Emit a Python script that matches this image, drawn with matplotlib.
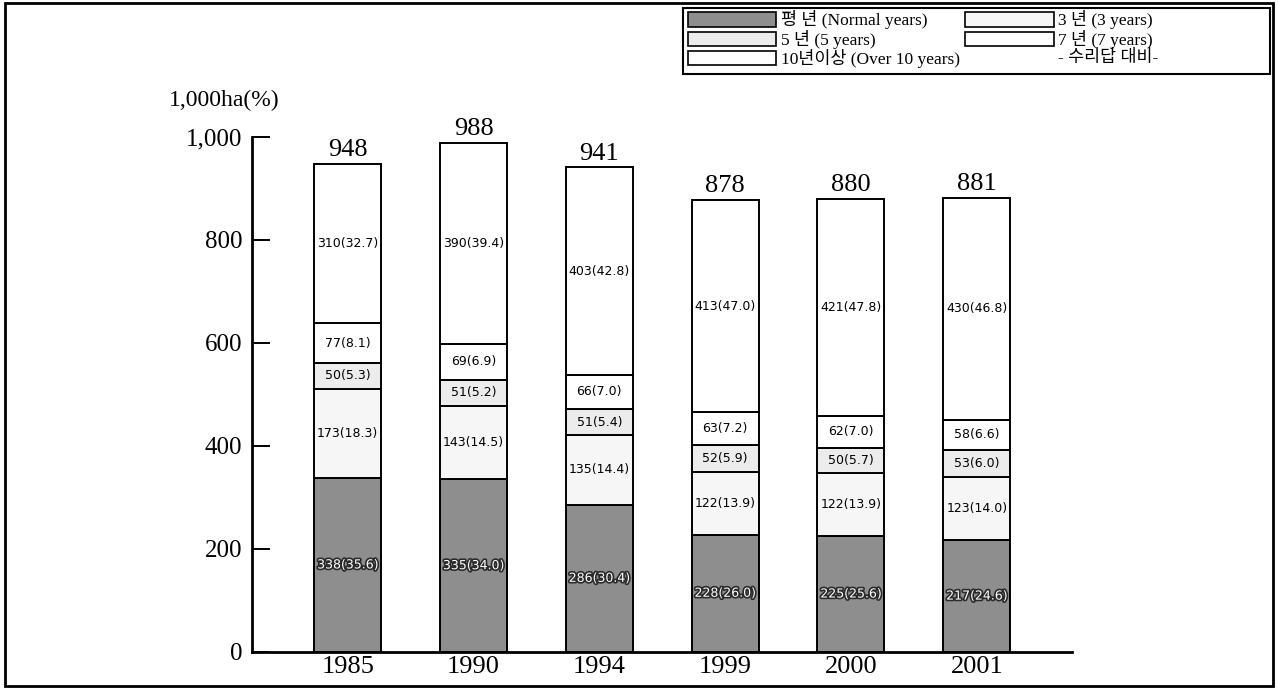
import matplotlib
matplotlib.use('Agg')
import matplotlib.pyplot as plt
import matplotlib.patheffects as pe
from matplotlib.patches import Patch, Rectangle
import numpy as np

# ------------------------------
# data (1,000 ha, share in %)
# ------------------------------
years = ['1985', '1990', '1994', '1999', '2000', '2001']
totals = [948, 988, 941, 878, 880, 881]

normal = [338, 335, 286, 228, 225, 217]
normal_pct = [35.6, 34.0, 30.4, 26.0, 25.6, 24.6]
yr3 = [173, 143, 135, 122, 122, 123]
yr3_pct = [18.3, 14.5, 14.4, 13.9, 13.9, 14.0]
yr5 = [50, 51, 51, 52, 50, 53]
yr5_pct = [5.3, 5.2, 5.4, 5.9, 5.7, 6.0]
yr7 = [77, 69, 66, 63, 62, 58]
yr7_pct = [8.1, 6.9, 7.0, 7.2, 7.0, 6.6]
yr10 = [310, 390, 403, 413, 421, 430]
yr10_pct = [32.7, 39.4, 42.8, 47.0, 47.8, 46.8]

series = [
    ('평 년 (Normal years)', normal, normal_pct, '#8e8e8e'),
    ('3 년 (3 years)', yr3, yr3_pct, '#f6f6f6'),
    ('5 년 (5 years)', yr5, yr5_pct, '#ececec'),
    ('7 년 (7 years)', yr7, yr7_pct, 'white'),
    ('10년이상 (Over 10 years)', yr10, yr10_pct, 'white'),
]

serif = ['Liberation Serif', 'Noto Sans CJK KR', 'DejaVu Sans']
plt.rcParams['font.family'] = serif

fig = plt.figure(figsize=(12.78, 6.9), dpi=100)
ax = fig.add_axes([0.197, 0.0551, 0.6416, 0.7464])

x = np.arange(len(years))
width = 0.533
bottom = np.zeros(len(years))
handles = {}
for i, (name, vals, pcts, col) in enumerate(series):
    vals = np.array(vals)
    ax.bar(x, vals, width, bottom=bottom, color=col,
           edgecolor='black', linewidth=1.4, zorder=2)
    handles[name] = Patch(facecolor=col, edgecolor='black', linewidth=1.2)
    for xi, b, v, p in zip(x, bottom, vals, pcts):
        txt = ax.text(xi, b + v / 2, f'{v}({p:.1f})', ha='center', va='center',
                      fontsize=9, family='DejaVu Sans', zorder=3,
                      color='white' if i == 0 else 'black')
        if i == 0:
            txt.set_path_effects([pe.withStroke(linewidth=2.4, foreground='#2a2a2a')])
    bottom = bottom + vals

# totals above the bars
for xi, t in zip(x, totals):
    ax.annotate(str(t), (xi, t), xytext=(0, 2), textcoords='offset points',
                ha='center', va='bottom', fontsize=19, annotation_clip=False)

ax.set_xlim(-0.763, 5.755)
ax.set_ylim(0, 1000)
ax.set_yticks([0, 200, 400, 600, 800, 1000])
ax.set_yticklabels(['0', '200', '400', '600', '800', '1,000'], fontsize=18)
ax.set_xticks(x)
ax.set_xticklabels(years, fontsize=19)
ax.tick_params(axis='y', direction='in', length=13, width=1.4, pad=7)
ax.tick_params(axis='x', length=0, pad=3)
ax.spines['top'].set_visible(False)
ax.spines['right'].set_visible(False)
ax.spines['left'].set_linewidth(2)
ax.spines['bottom'].set_linewidth(2)

fig.text(0.132, 0.855, '1,000ha(%)', fontsize=17, va='center', ha='left')

# legend: column-first -> normal, 5y, 10y+ | 3y, 7y, note
note = Patch(facecolor='none', edgecolor='none')
order = ['평 년 (Normal years)', '5 년 (5 years)', '10년이상 (Over 10 years)',
         '3 년 (3 years)', '7 년 (7 years)']
leg_handles = [handles[k] for k in order] + [note]
leg_labels = order + ['- 수리답 대비-']
leg = fig.legend(leg_handles, leg_labels, ncol=2, loc='upper left',
                 bbox_to_anchor=(0.5383, 0.985), bbox_transform=fig.transFigure,
                 fontsize=12.5, handlelength=5.1, handleheight=0.9,
                 handletextpad=0.25, labelspacing=0.02, columnspacing=0.3,
                 borderpad=0.0, borderaxespad=0, frameon=False)
# legend frame is wider than its content in the original
fig.add_artist(Rectangle((0.5344, 0.8928), 0.4593, 0.0957, transform=fig.transFigure,
                         fill=False, edgecolor='black', linewidth=1.5))

# scanned page frame
fig.add_artist(Rectangle((0.004, 0.006), 0.992, 0.99, transform=fig.transFigure,
                         fill=False, edgecolor='black', linewidth=2))

fig.savefig('out.png', dpi=100)
